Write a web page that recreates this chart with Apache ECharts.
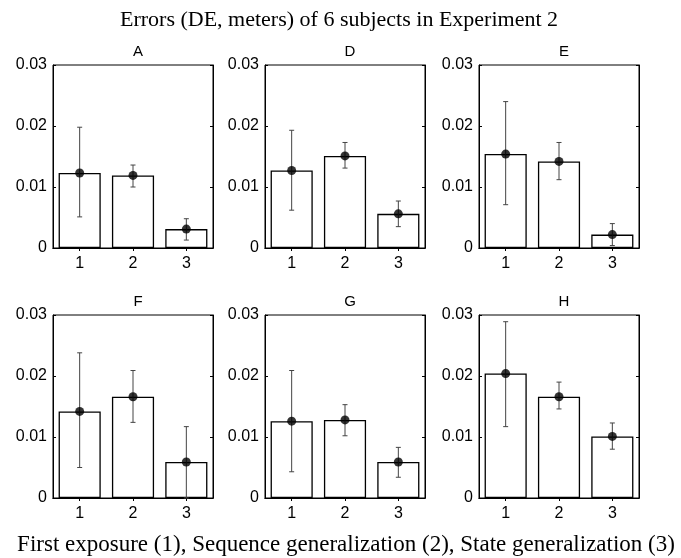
<!DOCTYPE html>
<html>
<head>
<meta charset="utf-8">
<script src="https://cdn.jsdelivr.net/npm/echarts@6/dist/echarts.min.js"></script>
<style>
html, body { margin: 0; padding: 0; background: #fff; }
#main { width: 681px; height: 558px; }
</style>
</head>
<body>
<div id="main"></div>
<script>
// --- data ---
var categories = ['1', '2', '3'];
var panelNames = ['A', 'D', 'E', 'F', 'G', 'H'];

var meanA = [0.0123, 0.0119, 0.0031];
var lowA  = [0.0051, 0.0100, 0.0013];
var highA = [0.0198, 0.0136, 0.0048];

var meanD = [0.0127, 0.0151, 0.0056];
var lowD  = [0.0062, 0.0131, 0.0035];
var highD = [0.0193, 0.0173, 0.0077];

var meanE = [0.0154, 0.0142, 0.0022];
var lowE  = [0.0071, 0.0112, 0.0004];
var highE = [0.0240, 0.0173, 0.0040];

var meanF = [0.0142, 0.0166, 0.0059];
var lowF  = [0.0050, 0.0124, 0.0000];
var highF = [0.0238, 0.0209, 0.0117];

var meanG = [0.0126, 0.0128, 0.0059];
var lowG  = [0.0043, 0.0102, 0.0034];
var highG = [0.0209, 0.0153, 0.0083];

var meanH = [0.0204, 0.0166, 0.0101];
var lowH  = [0.0117, 0.0146, 0.0080];
var highH = [0.0289, 0.0190, 0.0123];

var yTicks = [0, 0.01, 0.02, 0.03];

var means = [meanA, meanD, meanE, meanF, meanG, meanH];
var lows  = [lowA, lowD, lowE, lowF, lowG, lowH];
var highs = [highA, highD, highE, highF, highG, highH];

// --- layout ---
var lefts = [53, 265, 479];
var tops = [65, 315];
var plotW = 160, plotH = 183;
var sans = 'Liberation Sans';
var serif = 'Liberation Serif';

var myChart = echarts.init(document.getElementById('main'), null, { renderer: 'canvas' });

var grid = [], xAxis = [], yAxis = [], series = [];
var title = [
	{
		text: 'Errors (DE, meters) of 6 subjects in Experiment 2',
		left: 334, top: 4, textAlign: 'center',
		textStyle: { fontFamily: serif, fontSize: 22, fontWeight: 'normal', color: '#000' }
	},
	{
		text: 'First exposure (1), Sequence generalization (2), State generalization (3)',
		left: 341, top: 528, textAlign: 'center',
		textStyle: { fontFamily: serif, fontSize: 23, fontWeight: 'normal', color: '#000' }
	}
];

function errorBar(params, api) {
	var x = api.value(0);
	var lo = api.coord([x, api.value(1)]);
	var hi = api.coord([x, api.value(2)]);
	var cap = 2.5;
	var style = { stroke: '#444', lineWidth: 1 };
	return {
		type: 'group',
		children: [
			{ type: 'line', shape: { x1: lo[0], y1: lo[1], x2: hi[0], y2: hi[1] }, style: style },
			{ type: 'line', shape: { x1: hi[0] - cap, y1: hi[1], x2: hi[0] + cap, y2: hi[1] }, style: style },
			{ type: 'line', shape: { x1: lo[0] - cap, y1: lo[1], x2: lo[0] + cap, y2: lo[1] }, style: style }
		]
	};
}

for (var i = 0; i < 6; i++) {
	var row = Math.floor(i / 3), col = i % 3;
	grid.push({
		left: lefts[col], top: tops[row], width: plotW, height: plotH,
		show: true, borderColor: '#000', borderWidth: 1, backgroundColor: 'transparent'
	});
	title.push({
		text: panelNames[i],
		left: lefts[col] + plotW / 2, top: tops[row] - 26, textAlign: 'center',
		textStyle: { fontFamily: sans, fontSize: 15, fontWeight: 'normal', color: '#000' }
	});
	// bottom + top x axes
	xAxis.push({
		type: 'category', gridIndex: i, data: categories, position: 'bottom',
		axisLine: { show: true, lineStyle: { color: '#000', width: 1 } },
		axisTick: { show: true, inside: true, alignWithLabel: true, length: 3, lineStyle: { color: '#000' } },
		axisLabel: { fontFamily: sans, fontSize: 16, color: '#000', margin: 8 },
		splitLine: { show: false }
	});
	xAxis.push({
		type: 'category', gridIndex: i, data: categories, position: 'top',
		axisLine: { show: true, lineStyle: { color: '#000', width: 1 } },
		axisTick: { show: true, inside: true, alignWithLabel: true, length: 3, lineStyle: { color: '#000' } },
		axisLabel: { show: false },
		splitLine: { show: false }
	});
	// left + right y axes
	yAxis.push({
		type: 'value', gridIndex: i, min: yTicks[0], max: yTicks[yTicks.length - 1], interval: 0.01,
		position: 'left',
		axisLine: { show: true, lineStyle: { color: '#000', width: 1 } },
		axisTick: { show: true, inside: true, length: 3, lineStyle: { color: '#000' } },
		axisLabel: {
			fontFamily: sans, fontSize: 16, color: '#000', margin: 6,
			formatter: function (v) { return v === 0 ? '0' : v.toFixed(2); }
		},
		splitLine: { show: false }
	});
	yAxis.push({
		type: 'value', gridIndex: i, min: yTicks[0], max: yTicks[yTicks.length - 1], interval: 0.01,
		position: 'right',
		axisLine: { show: true, lineStyle: { color: '#000', width: 1 } },
		axisTick: { show: true, inside: true, length: 3, lineStyle: { color: '#000' } },
		axisLabel: { show: false },
		splitLine: { show: false }
	});

	var errData = [];
	var dotData = [];
	for (var k = 0; k < categories.length; k++) {
		errData.push([k, lows[i][k], highs[i][k]]);
		dotData.push([k, means[i][k]]);
	}

	series.push({
		name: panelNames[i] + ' mean', type: 'bar',
		xAxisIndex: 2 * i, yAxisIndex: 2 * i,
		data: means[i], barWidth: '79%',
		itemStyle: { color: '#fff', borderColor: '#000', borderWidth: 1.3 },
		silent: true, z: 2
	});
	series.push({
		name: panelNames[i] + ' error', type: 'custom',
		xAxisIndex: 2 * i, yAxisIndex: 2 * i,
		data: errData, renderItem: errorBar,
		silent: true, z: 3
	});
	series.push({
		name: panelNames[i] + ' dot', type: 'scatter',
		xAxisIndex: 2 * i, yAxisIndex: 2 * i,
		data: dotData, symbol: 'circle', symbolSize: 9,
		itemStyle: { color: '#000' },
		silent: true, z: 4
	});
}

myChart.setOption({
	animation: false,
	backgroundColor: '#fff',
	title: title,
	grid: grid,
	xAxis: xAxis,
	yAxis: yAxis,
	series: series
});
</script>
</body>
</html>
